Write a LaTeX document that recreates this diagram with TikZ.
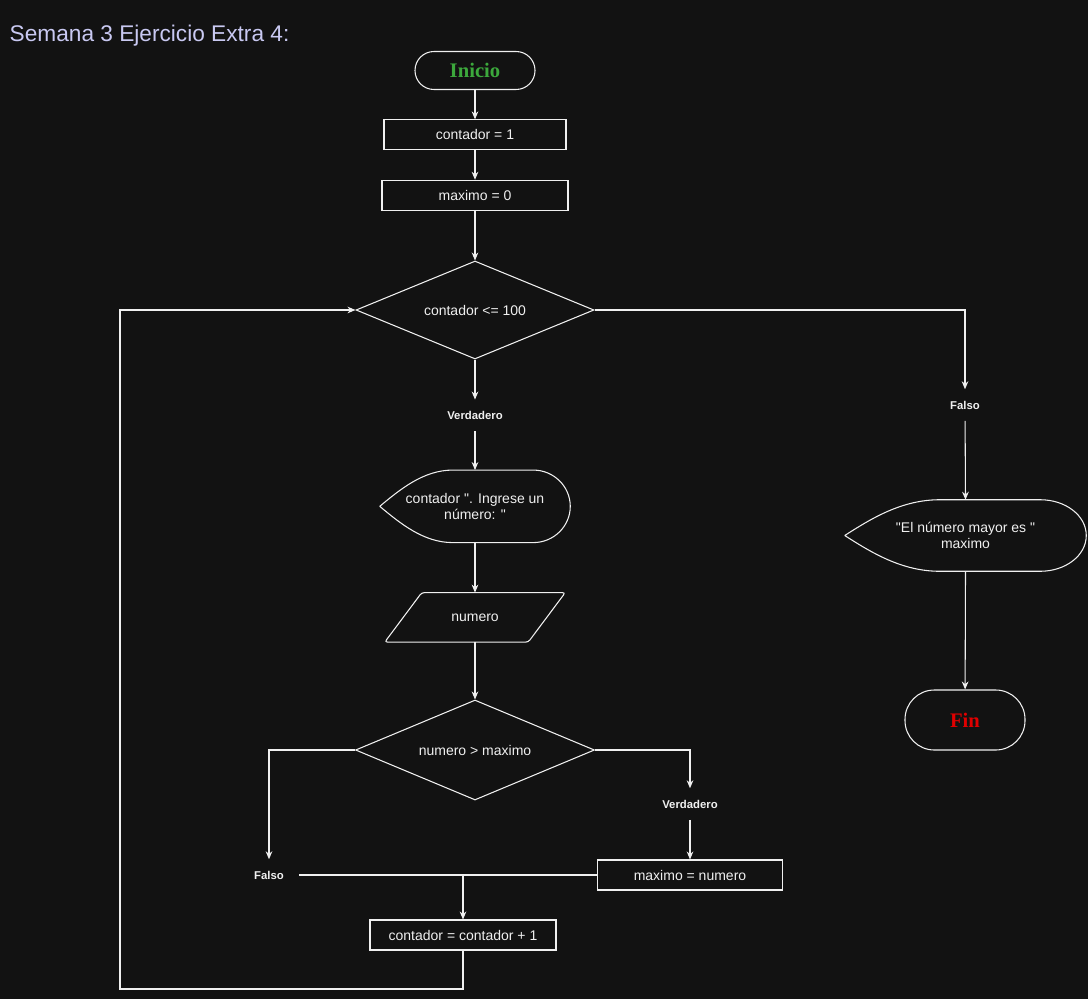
\documentclass[tikz,border=0pt]{standalone}
\usepackage{fontspec}
\setmainfont{Liberation Sans}[Ligatures=TeXOff]
\newfontfamily\serifbf{Liberation Serif}
\usetikzlibrary{arrows.meta,positioning,shapes.geometric,calc}

\definecolor{bg}{HTML}{121212}
\definecolor{fg}{HTML}{F0F0F0}
\definecolor{titlecol}{HTML}{C9C9F2}
\definecolor{startcol}{HTML}{3CA83C}
\definecolor{endcol}{HTML}{E00000}

% outline of a "display" box around a node: name, left inset, right inset (px)
\newcommand{\dispbox}[3]{%
  \draw[line] (#1.west) .. controls ($(#1.west)+({0.28*#2},-17)$) and ($(#1.north west)+({0.6*#2},0)$) .. ($(#1.north west)+(#2,0)$)
    -- ($(#1.north east)+(-#3,0)$) .. controls ($(#1.north east)+({-0.45*#3},0)$) and ($(#1.east)+(0,-20)$) .. (#1.east)
    .. controls ($(#1.east)+(0,20)$) and ($(#1.south east)+({-0.45*#3},0)$) .. ($(#1.south east)+(-#3,0)$)
    -- ($(#1.south west)+(#2,0)$) .. controls ($(#1.south west)+({0.6*#2},0)$) and ($(#1.west)+({0.28*#2},17)$) .. (#1.west);}
% outline of an input box around a node: name, slant (px)
\newcommand{\iobox}[2]{%
  \draw[line, rounded corners=2pt] ($(#1.north west)+(#2,0)$) -- (#1.north east)
    -- ($(#1.south east)+(-#2,0)$) -- (#1.south west) -- cycle;}

\begin{document}
\begin{tikzpicture}[x=0.75pt, y=-0.75pt,
  >={Stealth[length=6pt,width=5pt]},
  every node/.append style={align=center},
  line/.style={draw=fg, line width=0.8pt},
  base/.style={line, text=fg, inner sep=0pt, font=\fontsize{10.5}{12.5}\selectfont},
  proc/.style={base, rectangle, minimum height=22.5pt},
  term/.style={base, minimum width=90pt, font=\serifbf\bfseries\fontsize{15.5}{18}\selectfont},
  dec/.style={base, diamond, shape aspect=2.4},
  disp/.style={text=fg, inner sep=0pt, font=\fontsize{10.5}{12.5}\selectfont},
  lbl/.style={text=fg, inner sep=0pt, minimum width=45pt, minimum height=23.25pt,
    font=\bfseries\fontsize{8.5}{10}\selectfont}]
 \useasboundingbox[fill=bg] (0,0) rectangle (1088,999);
 \node[anchor=west, text=titlecol, font=\fontsize{17}{20}\selectfont] (title) at (5,36) {Semana 3 Ejercicio Extra 4:};

 % main column
 \node[term, text=startcol, minimum height=28.5pt, rounded corners=14.2pt] (start) at (475,70.5) {Inicio};
 \node[proc, minimum width=136.5pt, below=22pt of start] (c1) {contador = 1};
 \node[proc, minimum width=139.5pt, below=22pt of c1] (m0) {maximo = 0};
 \node[dec, minimum width=178.5pt, minimum height=73.5pt] (cond1) at (475,310) {contador <= 100};
 \node[lbl, below=30pt of cond1] (v1) {Verdadero};
 \node[disp, minimum width=142.5pt, minimum height=54pt, below=29.25pt of v1] (d1) {contador ". Ingrese un\\número: "};
 \dispbox{d1}{73}{37}
 \node[disp, minimum width=135pt, minimum height=36.75pt, below=37.5pt of d1] (in1) {numero};
 \iobox{in1}{37}
 \node[dec, minimum width=179.25pt, minimum height=75pt] (cond2) at (475,750) {numero > maximo};

 % inner branches
 \node[lbl] (f2) at (269,875) {Falso};
 \node[lbl] (v2) at (690,804) {Verdadero};
 \node[proc, minimum width=138.75pt] (m1) at (690,875) {maximo = numero};
 \node[proc, minimum width=139.5pt] (c2) at (463,935) {contador = contador + 1};
 \coordinate (back) at (120,989);

 % exit branch
 \node[lbl] (f1) at (965,405) {Falso};
 \node[disp, minimum width=180.75pt, minimum height=53.25pt] (d2) at (965.5,535.5) {"El número mayor es "\\maximo};
 \dispbox{d2}{95}{46}
 \node[term, text=endcol, minimum height=45pt, rounded corners=22pt] (end) at (965,720) {Fin};

 \draw[line,->] (start) -- (c1);
 \draw[line,->] (c1) -- (m0);
 \draw[line,->] (m0) -- (cond1);
 \draw[line,->] (cond1) -- (v1);
 \draw[line,->] (v1) -- (d1);
 \draw[line,->] (d1) -- (in1);
 \draw[line,->] (in1) -- (cond2);
 \draw[line,->] (cond2.west) -| (f2.north);
 \draw[line,->] (cond2.east) -| (v2.north);
 \draw[line,->] (v2) -- (m1);
 \draw[line] (f2.east) -- (m1.west);
 \draw[line,->] (c2 |- m1.west) -- (c2);
 \draw[line,->] (c2.south) |- (back) |- (cond1.west);
 \draw[line,->] (cond1.east) -| (f1.north);
 \draw[line,->] (f1) -- (d2.north);
 \draw[line,->] (d2.south) -- (end);
\end{tikzpicture}
\end{document}
